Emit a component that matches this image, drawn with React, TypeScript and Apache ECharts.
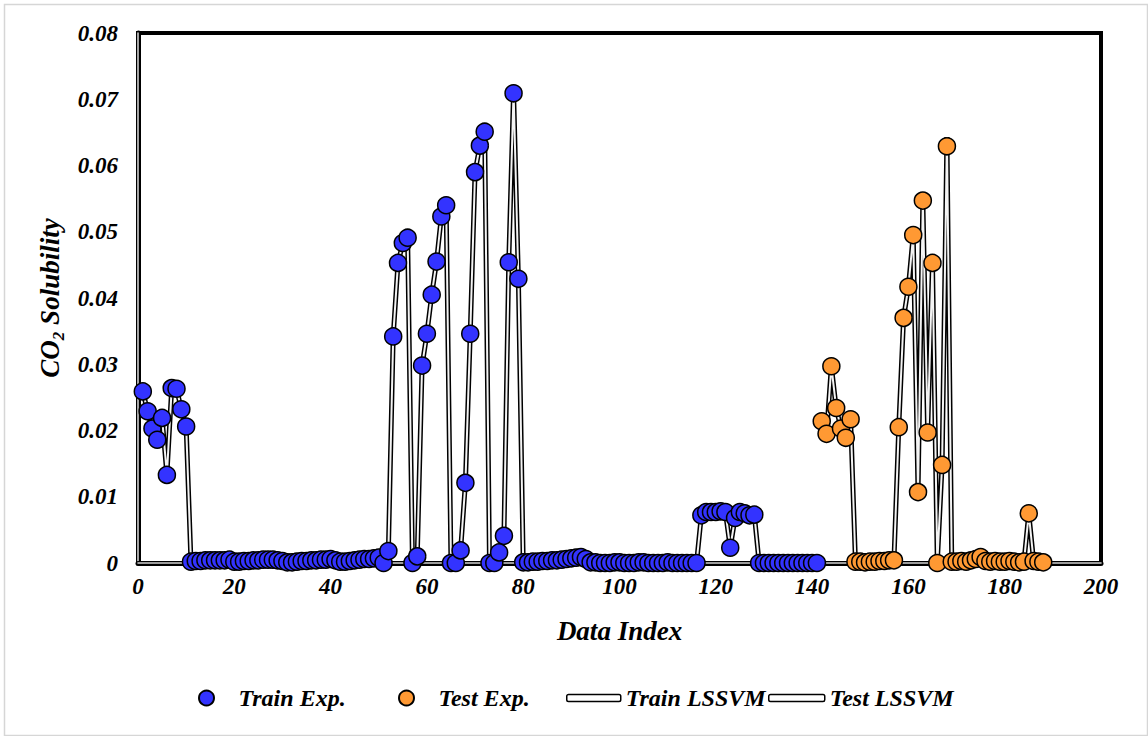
import { useEffect, useRef } from "react";
import * as echarts from "echarts";

// Sample index where each set begins
const trainStart = 1;
const testStart = 142;

// Experimental CO2 solubility, training set (index 1..141)
const trainExp = [
  0.0259, 0.0229, 0.0203, 0.0186, 0.0219, 0.0133, 0.0264, 0.0263, 0.0232, 0.0206,
  0.0002, 0.0003, 0.0003, 0.0004, 0.0004, 0.0004, 0.0004, 0.0004, 0.0005, 0.0002,
  0.0002, 0.0003, 0.0003, 0.0004, 0.0004, 0.0005, 0.0005, 0.0005, 0.0004, 0.0003,
  0.0001, 0.0001, 0.0002, 0.0003, 0.0003, 0.0004, 0.0004, 0.0005, 0.0005, 0.0006,
  0.0004, 0.0002, 0.0002, 0.0003, 0.0004, 0.0005, 0.0006, 0.0006, 0.0007, 0.0008,
  0.0000, 0.0018, 0.0342, 0.0453, 0.0483, 0.0491, 0.0000, 0.0010, 0.0298, 0.0346,
  0.0405, 0.0455, 0.0523, 0.0540, 0.0000, 0.0000, 0.0019, 0.0121, 0.0346, 0.0590,
  0.0630, 0.0651, 0.0000, 0.0000, 0.0016, 0.0041, 0.0454, 0.0709, 0.0429, 0.0001,
  0.0001, 0.0002, 0.0002, 0.0003, 0.0003, 0.0004, 0.0004, 0.0005, 0.0006, 0.0007,
  0.0008, 0.0009, 0.0006, 0.0001, 0.0001, 0.0000, 0.0000, 0.0000, 0.0001, 0.0001,
  0.0000, 0.0000, 0.0000, 0.0001, 0.0001, 0.0000, 0.0000, 0.0000, 0.0000, 0.0001,
  0.0000, 0.0000, 0.0000, 0.0000, 0.0000, 0.0000, 0.0072, 0.0077, 0.0077, 0.0077,
  0.0078, 0.0077, 0.0023, 0.0068, 0.0077, 0.0075, 0.0072, 0.0073, 0.0000, 0.0000,
  0.0000, 0.0000, 0.0000, 0.0000, 0.0000, 0.0000, 0.0000, 0.0000, 0.0000, 0.0000,
  0.0000,
];

// LSSVM predictions, training set (index 1..141)
const trainLssvm = [
  0.0259, 0.0229, 0.0203, 0.0186, 0.0219, 0.0133, 0.0264, 0.0263, 0.0232, 0.0206,
  0.0002, 0.0003, 0.0003, 0.0004, 0.0004, 0.0004, 0.0004, 0.0004, 0.0005, 0.0002,
  0.0002, 0.0003, 0.0003, 0.0004, 0.0004, 0.0005, 0.0005, 0.0005, 0.0004, 0.0003,
  0.0001, 0.0001, 0.0002, 0.0003, 0.0003, 0.0004, 0.0004, 0.0005, 0.0005, 0.0006,
  0.0004, 0.0002, 0.0002, 0.0003, 0.0004, 0.0005, 0.0006, 0.0006, 0.0007, 0.0008,
  0.0000, 0.0018, 0.0342, 0.0453, 0.0483, 0.0491, 0.0000, 0.0010, 0.0298, 0.0346,
  0.0405, 0.0455, 0.0523, 0.0540, 0.0000, 0.0000, 0.0019, 0.0121, 0.0346, 0.0590,
  0.0630, 0.0651, 0.0000, 0.0000, 0.0016, 0.0041, 0.0454, 0.0712, 0.0429, 0.0001,
  0.0001, 0.0002, 0.0002, 0.0003, 0.0003, 0.0004, 0.0004, 0.0005, 0.0006, 0.0007,
  0.0008, 0.0009, 0.0006, 0.0001, 0.0001, 0.0000, 0.0000, 0.0000, 0.0001, 0.0001,
  0.0000, 0.0000, 0.0000, 0.0001, 0.0001, 0.0000, 0.0000, 0.0000, 0.0000, 0.0001,
  0.0000, 0.0000, 0.0000, 0.0000, 0.0000, 0.0000, 0.0072, 0.0077, 0.0077, 0.0077,
  0.0078, 0.0077, 0.0023, 0.0068, 0.0077, 0.0075, 0.0072, 0.0073, 0.0000, 0.0000,
  0.0000, 0.0000, 0.0000, 0.0000, 0.0000, 0.0000, 0.0000, 0.0000, 0.0000, 0.0000,
  0.0000,
];

// Experimental CO2 solubility, test set (index 142..188)
const testExp = [
  0.0214, 0.0195, 0.0297, 0.0234, 0.0203, 0.0189, 0.0217, 0.0002, 0.0002, 0.0001,
  0.0002, 0.0002, 0.0003, 0.0003, 0.0004, 0.0004, 0.0205, 0.0370, 0.0417, 0.0495,
  0.0107, 0.0547, 0.0197, 0.0453, 0.0000, 0.0148, 0.0629, 0.0002, 0.0002, 0.0003,
  0.0002, 0.0004, 0.0006, 0.0009, 0.0003, 0.0002, 0.0003, 0.0002, 0.0002, 0.0003,
  0.0002, 0.0001, 0.0002, 0.0075, 0.0003, 0.0002, 0.0001,
];

// LSSVM predictions, test set (index 142..188)
const testLssvm = [
  0.0214, 0.0195, 0.0297, 0.0234, 0.0203, 0.0189, 0.0217, 0.0002, 0.0002, 0.0001,
  0.0002, 0.0002, 0.0003, 0.0003, 0.0004, 0.0004, 0.0205, 0.0370, 0.0417, 0.0495,
  0.0107, 0.0547, 0.0197, 0.0453, 0.0000, 0.0148, 0.0643, 0.0002, 0.0002, 0.0003,
  0.0002, 0.0004, 0.0006, 0.0009, 0.0003, 0.0002, 0.0003, 0.0002, 0.0002, 0.0003,
  0.0002, 0.0001, 0.0002, 0.0075, 0.0003, 0.0002, 0.0001,
];

const X_MIN = 0;
const X_MAX = 200;
const X_STEP = 20;
const Y_MIN = 0;
const Y_MAX = 0.08;
const Y_STEP = 0.01;

const SERIF = "'Liberation Serif', 'Times New Roman', serif";
const BLUE = "#3333FF";
const ORANGE = "#FF9933";

const toPairs = (start: number, values: number[]) =>
  values.map((v, k) => [start + k, v]);

const boldItalic = {
  fontFamily: SERIF,
  fontStyle: "italic" as const,
  fontWeight: "bold" as const,
  color: "#000",
};

export default function App() {
  const ref = useRef<HTMLDivElement>(null);

  useEffect(() => {
    if (!ref.current) return;
    const chart = echarts.init(ref.current, undefined, { renderer: "svg" });

    const trainExpPts = toPairs(trainStart, trainExp);
    const testExpPts = toPairs(testStart, testExp);
    const trainLinePts = toPairs(trainStart, trainLssvm);
    const testLinePts = toPairs(testStart, testLssvm);

    // "Double" line: a dark wide stroke with a pale narrow stroke on top
    const doubleLine = (name: string, data: number[][]) => [
      {
        name,
        type: "line",
        data,
        symbol: "none",
        showSymbol: false,
        lineStyle: { color: "#000", width: 5 },
        itemStyle: { color: "#000" },
        z: 2,
      },
      {
        name,
        type: "line",
        data,
        symbol: "none",
        showSymbol: false,
        lineStyle: { color: "#f4f4f4", width: 2 },
        itemStyle: { color: "#fff" },
        z: 2,
      },
    ];

    const markerStyle = (color: string) => ({
      color,
      opacity: 1,
      borderColor: "#000",
      borderWidth: 1.5,
    });

    const legendText = { ...boldItalic, fontSize: 24 };
    const lineIconStyle = { color: "#fff", borderColor: "#000", borderWidth: 1.5 };

    chart.setOption({
      animation: false,
      backgroundColor: "#fff",
      graphic: [
        {
          type: "rect",
          left: 2,
          top: 2,
          shape: { width: 1143, height: 731 },
          style: { fill: "none", stroke: "#d6d6d6", lineWidth: 1.5 },
          silent: true,
        },
      ],
      grid: {
        left: 138,
        right: 47,
        top: 33,
        bottom: 173,
        show: true,
        borderColor: "#000",
        borderWidth: 4,
        backgroundColor: "transparent",
      },
      legend: [
        {
          data: [{ name: "Train Exp.", icon: "circle" }],
          left: 198,
          top: 686,
          padding: 0,
          itemWidth: 54,
          itemHeight: 15,
          textStyle: legendText,
        },
        {
          data: [{ name: "Test Exp.", icon: "circle" }],
          left: 398,
          top: 686,
          padding: 0,
          itemWidth: 54,
          itemHeight: 15,
          textStyle: legendText,
        },
        {
          data: [{ name: "Train LSSVM", icon: "roundRect", itemStyle: lineIconStyle }],
          left: 566,
          top: 686,
          padding: 0,
          itemWidth: 54,
          itemHeight: 7,
          textStyle: legendText,
        },
        {
          data: [{ name: "Test LSSVM", icon: "roundRect", itemStyle: lineIconStyle }],
          left: 768,
          top: 686,
          padding: 0,
          itemWidth: 56,
          itemHeight: 7,
          textStyle: legendText,
        },
      ],
      xAxis: [
        {
          type: "value",
          position: "bottom",
          min: X_MIN,
          max: X_MAX,
          interval: X_STEP,
          name: "Data Index",
          nameLocation: "middle",
          nameGap: 54,
          nameTextStyle: { ...boldItalic, fontSize: 27 },
          axisLine: { show: true, onZero: false, lineStyle: { color: "#000", width: 5 } },
          axisTick: { show: false },
          splitLine: { show: false },
          axisLabel: { ...boldItalic, fontSize: 23, margin: 12 },
        },
        {
          type: "value",
          position: "bottom",
          min: X_MIN,
          max: X_MAX,
          interval: X_STEP,
          axisLine: { show: true, onZero: false, lineStyle: { color: "#d0d0d0", width: 1.6 } },
          axisTick: { show: false },
          splitLine: { show: false },
          axisLabel: { show: false },
        },
      ],
      yAxis: [
        {
          type: "value",
          position: "left",
          min: Y_MIN,
          max: Y_MAX,
          interval: Y_STEP,
          name: "{a|CO}{b|2}{a| Solubility}",
          nameLocation: "middle",
          nameGap: 66,
          nameRotate: 90,
          nameTextStyle: {
            ...boldItalic,
            fontSize: 27,
            rich: {
              a: { ...boldItalic, fontSize: 27, lineHeight: 34 },
              b: { ...boldItalic, fontSize: 17, verticalAlign: "bottom" },
            },
          },
          axisLine: { show: true, onZero: false, lineStyle: { color: "#000", width: 5 } },
          axisTick: { show: false },
          splitLine: { show: false },
          axisLabel: {
            ...boldItalic,
            fontSize: 23,
            margin: 20,
            formatter: (v: number) => (v === 0 ? "0" : v.toFixed(2)),
          },
        },
        {
          type: "value",
          position: "left",
          min: Y_MIN,
          max: Y_MAX,
          interval: Y_STEP,
          axisLine: { show: true, onZero: false, lineStyle: { color: "#d0d0d0", width: 1.6 } },
          axisTick: { show: false },
          splitLine: { show: false },
          axisLabel: { show: false },
        },
      ],
      series: [
        ...doubleLine("Train LSSVM", trainLinePts),
        ...doubleLine("Test LSSVM", testLinePts),
        {
          name: "Train Exp.",
          type: "scatter",
          data: trainExpPts,
          symbol: "circle",
          symbolSize: 17,
          itemStyle: markerStyle(BLUE),
          z: 3,
        },
        {
          name: "Test Exp.",
          type: "scatter",
          data: testExpPts,
          symbol: "circle",
          symbolSize: 17,
          itemStyle: markerStyle(ORANGE),
          z: 3,
        },
      ],
    });

    return () => chart.dispose();
  }, []);

  return (
    <div
      ref={ref}
      style={{ position: "fixed", left: 0, top: 0, width: 1148, height: 736 }}
    />
  );
}
